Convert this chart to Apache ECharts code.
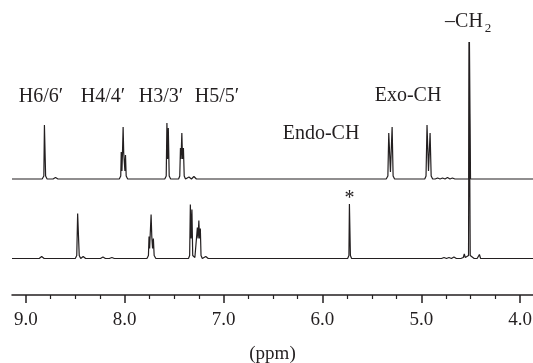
<!DOCTYPE html>
<html>
<head>
<meta charset="utf-8">
<script src="https://cdn.jsdelivr.net/npm/echarts@6/dist/echarts.min.js"></script>
<style>
  html, body { margin: 0; padding: 0; background: #fff; }
  #chart { width: 533px; height: 363px; }
</style>
</head>
<body>
<div id="chart"></div>
<script>
// [ppm, intensity] (intensity in px above each baseline).
// steps kept > 2px apart, zrender drops smaller polyline segments
const upperTrace = [
  [9.14, 0], [8.835, 0], [8.818, 3], [8.812, 54], [8.806, 54], [8.8, 3], [8.785, 0],
  [8.725, 0], [8.7, 1.5], [8.675, 0],
  [8.055, 0], [8.04, 3], [8.035, 27], [8.028, 8], [8.022, 28], [8.016, 52], [8.01, 26],
  [8.004, 27], [7.998, 8], [7.992, 24], [7.985, 3], [7.97, 0],
  [7.595, 0], [7.58, 3], [7.573, 56], [7.566, 20], [7.559, 51], [7.55, 3], [7.535, 0],
  [7.455, 0], [7.443, 3], [7.436, 31], [7.43, 20], [7.422, 46], [7.415, 20], [7.406, 31],
  [7.398, 3], [7.385, 0],
  [7.375, 0], [7.35, 2], [7.325, 0], [7.3, 2.5], [7.275, 0],
  [5.355, 0], [5.338, 3], [5.329, 46], [5.312, 7], [5.295, 52], [5.285, 3], [5.27, 0],
  [4.965, 0], [4.952, 3], [4.942, 54], [4.927, 8], [4.911, 46], [4.9, 3], [4.885, 0],
  [4.86, 0], [4.835, 1], [4.81, 0], [4.785, 1], [4.76, 0], [4.735, 1.5], [4.71, 0],
  [4.685, 1], [4.66, 0],
  [4.518, 0], [4.513, 137], [4.507, 137], [4.502, 0],
  [3.87, 0]
];

const lowerTrace = [
  [9.14, 0], [8.865, 0], [8.84, 2], [8.815, 0],
  [8.5, 0], [8.485, 3], [8.476, 45], [8.468, 45], [8.46, 3], [8.445, 0],
  [8.42, 2], [8.395, 0],
  [8.245, 0], [8.22, 1.5], [8.195, 0], [8.155, 0], [8.13, 1], [8.105, 0],
  [7.775, 0], [7.76, 3], [7.754, 22], [7.748, 10], [7.742, 24], [7.733, 44], [7.726, 22],
  [7.718, 10], [7.71, 20], [7.702, 3], [7.685, 0],
  [7.355, 0], [7.343, 3], [7.336, 54], [7.328, 20], [7.32, 49], [7.312, 3], [7.29, 1],
  [7.272, 3], [7.265, 31], [7.258, 20], [7.25, 38], [7.243, 20], [7.235, 30],
  [7.228, 3], [7.215, 0],
  [7.205, 0], [7.18, 2], [7.155, 0],
  [5.745, 0], [5.732, 3], [5.727, 54.5], [5.722, 54.5], [5.717, 3], [5.705, 0],
  [4.795, 0], [4.77, 1], [4.745, 0], [4.72, 1], [4.695, 0], [4.67, 1.5], [4.645, 0],
  [4.6, 0], [4.575, 1], [4.565, 4.5], [4.555, 1], [4.535, 1], [4.522, 3], [4.517, 216.5],
  [4.51, 216.5], [4.505, 3], [4.49, 1], [4.465, 0],
  [4.435, 0], [4.412, 4], [4.4, 0],
  [3.87, 0]
];

const majorTicks = [9, 8, 7, 6, 5, 4];
const minorTicks = [8.75, 8.5, 8.25, 7.75, 7.5, 7.25, 6.75, 6.5, 6.25,
  5.75, 5.5, 5.25, 4.75, 4.5, 4.25];

const peakLabels = [
  { text: "H6/6\u2032", x: 41, y: 97 },
  { text: "H4/4\u2032", x: 103, y: 97 },
  { text: "H3/3\u2032", x: 161, y: 97 },
  { text: "H5/5\u2032", x: 217, y: 97 },
  { text: "Endo-CH", x: 321, y: 134 },
  { text: "Exo-CH", x: 408, y: 96 },
  { text: "\u2013CH", x: 464, y: 22 }
];

const ink = "#231f20";
const serif = "'Liberation Serif', 'DejaVu Serif', serif";

const chart = echarts.init(document.getElementById("chart"));

chart.setOption({
  animation: false,
  grid: { left: 12, right: 0, top: 0, height: 295, outerBoundsMode: "none", containLabel: false },
  xAxis: [
    {
      type: "value",
      min: 3.87,
      max: 9.14,
      inverse: true,
      position: "bottom",
      splitLine: { show: false },
      axisLine: { onZero: false, lineStyle: { color: ink, width: 1.5 } },
      axisTick: { customValues: majorTicks, length: 8, lineStyle: { color: ink, width: 1.5 } },
      axisLabel: {
        customValues: majorTicks,
        formatter: (v) => v.toFixed(1),
        color: ink,
        fontFamily: serif,
        fontSize: 19,
        margin: 16
      },
      name: "(ppm)",
      nameLocation: "middle",
      nameGap: 50,
      nameTextStyle: { color: ink, fontFamily: serif, fontSize: 19 }
    },
    {
      type: "value",
      min: 3.87,
      max: 9.14,
      inverse: true,
      position: "bottom",
      offset: 0,
      splitLine: { show: false },
      axisLine: { show: false, onZero: false },
      axisTick: { customValues: minorTicks, length: 4, lineStyle: { color: ink, width: 1.2 } },
      axisLabel: { show: false }
    }
  ],
  yAxis: [
    { type: "value", min: -36.5, max: 258.5, show: false },
    { type: "value", min: -116, max: 179, show: false }
  ],
  series: [
    {
      type: "line",
      data: lowerTrace,
      xAxisIndex: 0,
      yAxisIndex: 0,
      showSymbol: false,
      smooth: false,
      lineStyle: { color: ink, width: 1.2 },
      markPoint: {
        symbol: "circle",
        symbolSize: 0,
        data: [{ coord: [5.725, 54.5] }],
        label: {
          show: true,
          formatter: "*",
          position: "top",
          distance: 2,
          offset: [0, 7],
          color: ink,
          fontFamily: serif,
          fontSize: 20
        }
      }
    },
    {
      type: "line",
      data: upperTrace,
      xAxisIndex: 0,
      yAxisIndex: 1,
      showSymbol: false,
      smooth: false,
      lineStyle: { color: ink, width: 1.2 }
    }
  ],
  graphic: peakLabels.map((l) => ({
    type: "text",
    x: l.x,
    y: l.y,
    style: {
      text: l.text,
      fill: ink,
      font: "20px " + serif,
      align: "center",
      verticalAlign: "middle"
    }
  })).concat([{
    type: "text",
    x: 488,
    y: 29,
    style: { text: "2", fill: ink, font: "13px " + serif, align: "center", verticalAlign: "middle" }
  }])
});
</script>
</body>
</html>
